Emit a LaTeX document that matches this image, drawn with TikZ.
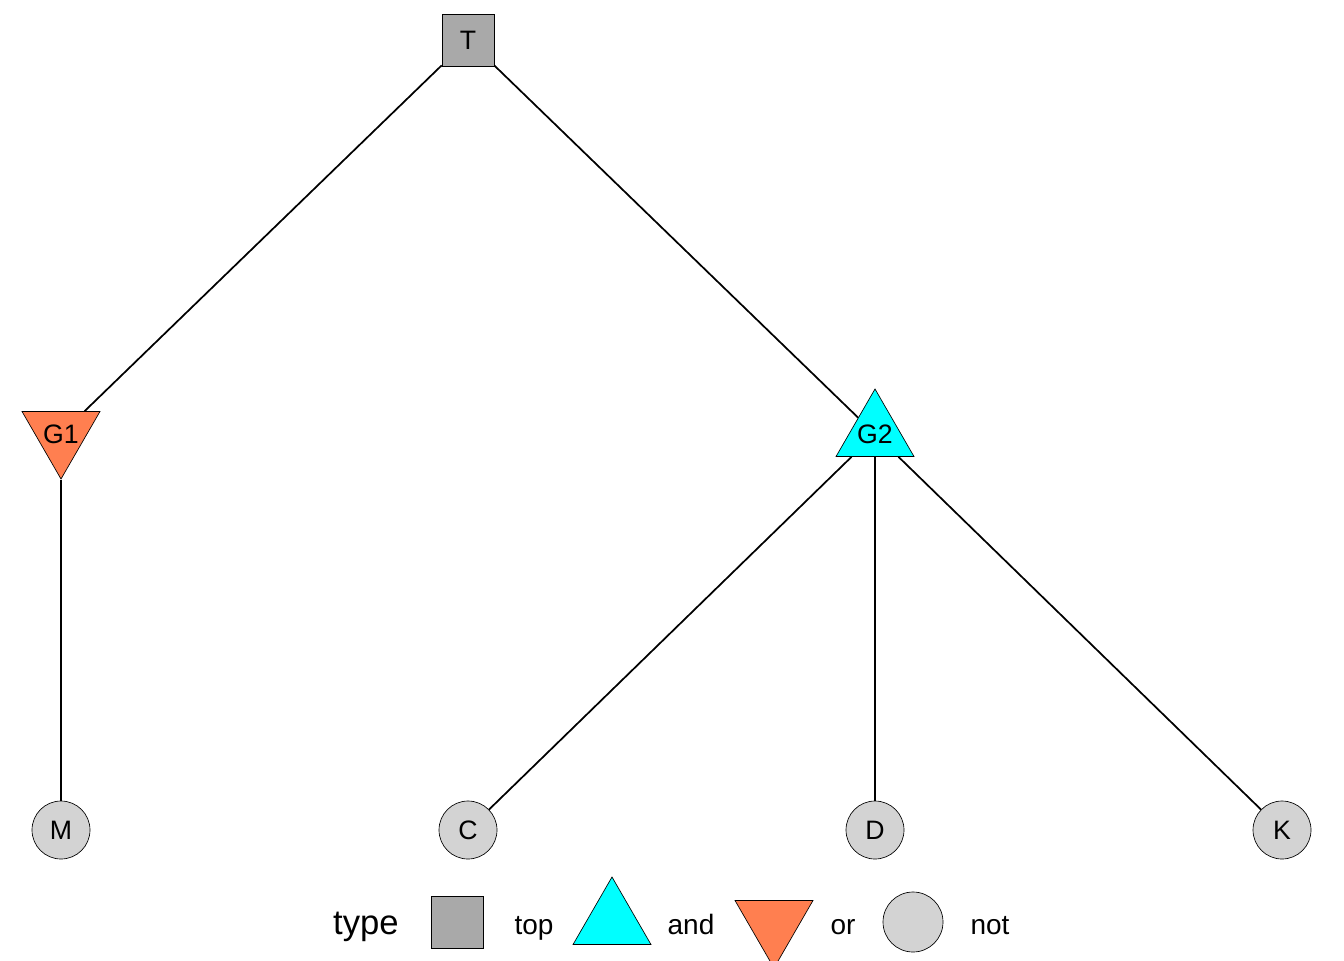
\documentclass[tikz,border=0pt]{standalone}
\usepackage{fontspec}
\setmainfont{Liberation Sans}
\usetikzlibrary{shapes.geometric}
\definecolor{topgray}{HTML}{A9A9A9}
\definecolor{notgray}{HTML}{D3D3D3}
\definecolor{andcyan}{HTML}{00FFFF}
\definecolor{orcoral}{HTML}{FF7F50}

\begin{document}
\begin{tikzpicture}[x=0.75pt, y=-0.75pt,
    topbox/.style={draw, line width=0.5pt, fill=topgray, minimum size=39pt, inner sep=0pt, font=\fontsize{20}{24}\selectfont},
    andgate/.style={draw, line width=0.5pt, fill=andcyan, regular polygon, regular polygon sides=3, minimum size=67.5pt, inner sep=0pt, label={[font=\fontsize{20}{24}\selectfont]center:#1}},
    orgate/.style={andgate=#1, fill=orcoral, shape border rotate=180},
    notnode/.style={draw, line width=0.5pt, fill=notgray, circle, minimum size=43.5pt, inner sep=0pt, font=\fontsize{20}{24}\selectfont},
    link/.style={line width=1.3pt},
    legtext/.style={anchor=base, font=\fontsize{21}{25}\selectfont}
]
    \useasboundingbox (0,0) rectangle (1344,960);

    % tree nodes
    \node[topbox] (T) at (468,40) {T};
    \node[orgate=G1] (G1) at (61,434) {};
    \node[andgate=G2] (G2) at (875,434) {};
    \node[notnode] (M) at (61,830) {M};
    \node[notnode] (C) at (468,830) {C};
    \node[notnode] (D) at (875,830) {D};
    \node[notnode] (K) at (1282,830) {K};

    % connectors
    \draw[link] (T) -- (G1);
    \draw[link] (T) -- (G2);
    \draw[link] (G1) -- (M);
    \draw[link] (G2) -- (C);
    \draw[link] (G2) -- (D);
    \draw[link] (G2) -- (K);

    % legend
    \node[anchor=base, font=\fontsize{26}{30}\selectfont] (legtype) at (366,934) {type};
    \node[topbox] (legtop) at (457,922) {};
    \node[legtext] (legtoptxt) at (534,934) {top};
    \node[andgate={}] (legand) at (612,922) {};
    \node[legtext] (legandtxt) at (691,934) {and};
    \node[orgate={}] (legor) at (774,923) {};
    \node[legtext] (legortxt) at (843,934) {or};
    \node[notnode, minimum size=45pt] (legnot) at (913,922) {};
    \node[legtext] (legnottxt) at (990,934) {not};
\end{tikzpicture}
\end{document}
